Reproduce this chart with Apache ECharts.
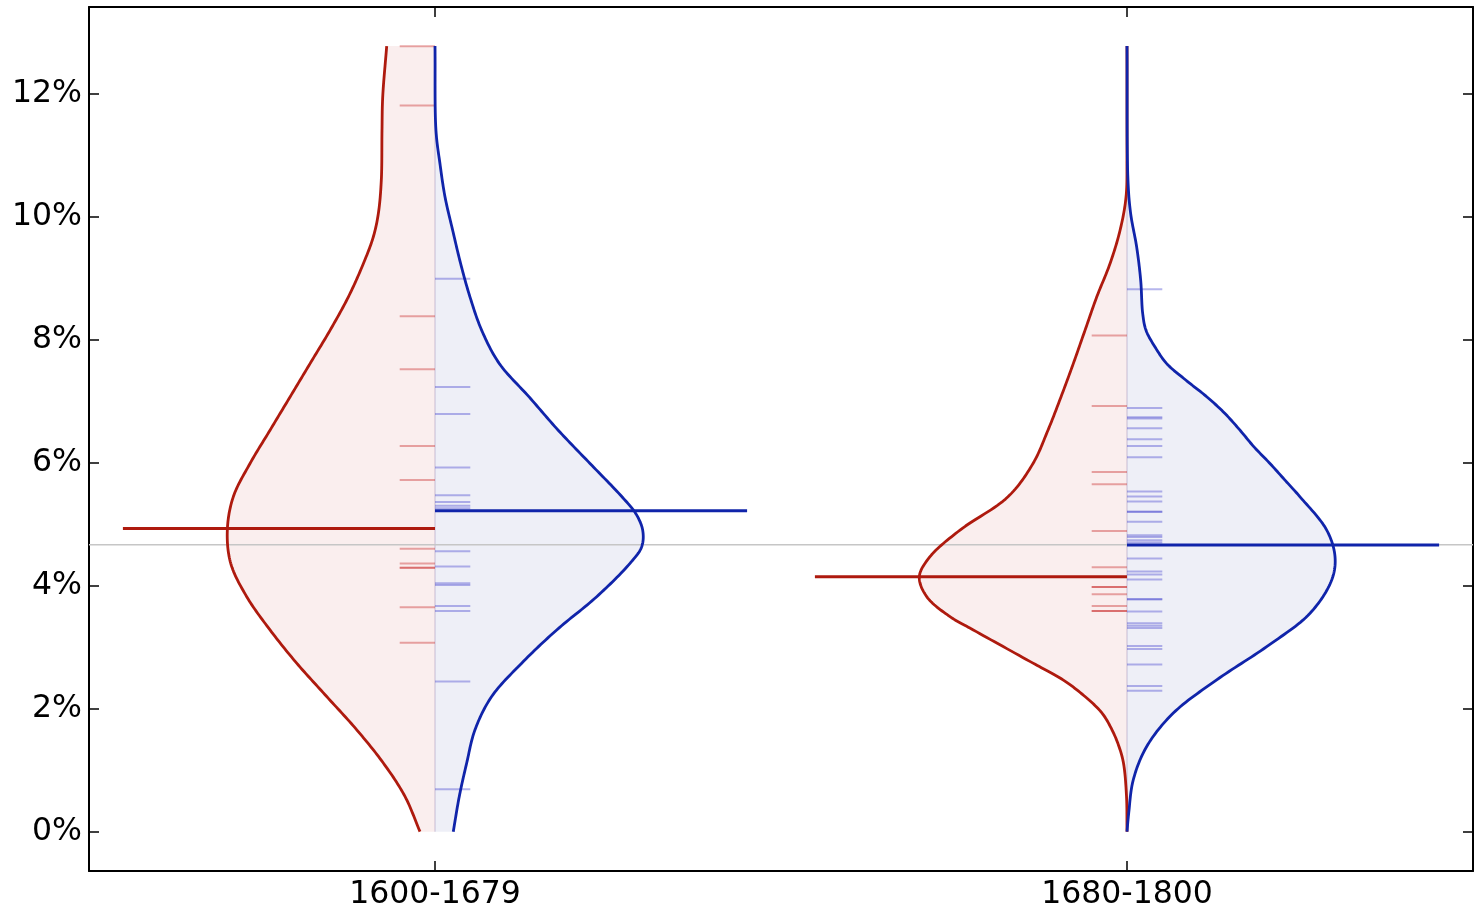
<!DOCTYPE html>
<html>
<head>
<meta charset="utf-8">
<script src="https://cdn.jsdelivr.net/npm/echarts@6/dist/echarts.min.js"></script>
<style>
  html, body { margin: 0; padding: 0; background: #ffffff; }
  #chart { width: 1483px; height: 912px; }
</style>
</head>
<body>
<div id="chart"></div>
<script>
// Period groups along the x axis and the y tick values (percent)
const groups = ['1600-1679', '1680-1800'];
const yTickValues = [0, 2, 4, 6, 8, 10, 12];

// Half-violin profiles, bottom to top: [value %, half width in x units]
const redProfile1600 = [
  [0, 0.0217], [0.573, 0.0434], [1.116, 0.0747], [1.656, 0.1131], [2.197, 0.1565],
  [2.740, 0.1999], [3.280, 0.2384], [3.821, 0.2721], [4.363, 0.2952], [4.904, 0.3001],
  [5.445, 0.2915], [5.987, 0.2673], [6.528, 0.2384], [7.069, 0.2095], [7.611, 0.1806],
  [8.152, 0.1517], [8.693, 0.1253], [9.235, 0.1036], [9.67, 0.0892], [10.05, 0.0819],
  [10.59, 0.0776], [11.40, 0.0766], [11.94, 0.0756], [12.775, 0.0698]
];
const blueProfile1600 = [
  [0, 0.0264], [0.573, 0.0351], [1.116, 0.0458], [1.656, 0.0578], [2.197, 0.0819],
  [2.740, 0.1253], [3.280, 0.1759], [3.821, 0.2337], [4.363, 0.2818], [4.633, 0.2987],
  [4.904, 0.3001], [5.175, 0.2900], [5.445, 0.2702], [5.987, 0.2240], [6.528, 0.1780],
  [7.069, 0.1360], [7.611, 0.0930], [8.152, 0.0675], [8.693, 0.0506], [9.235, 0.0371],
  [9.776, 0.0256], [10.32, 0.0145], [10.86, 0.0072], [11.40, 0.0014], [12.775, 0]
];
const redProfile1680 = [
  [0, 0], [0.573, 0.0007], [1.116, 0.0051], [1.385, 0.0116], [1.656, 0.0217],
  [1.928, 0.0361], [2.197, 0.0607], [2.468, 0.0925], [2.740, 0.1358], [3.280, 0.2221],
  [3.496, 0.2558], [3.821, 0.2894], [4.146, 0.3001], [4.471, 0.2847], [4.904, 0.2413],
  [5.445, 0.1720], [5.987, 0.1358], [6.528, 0.1142], [7.069, 0.0954], [7.611, 0.0776],
  [8.152, 0.0607], [8.693, 0.0438], [9.235, 0.0246], [9.776, 0.0101], [10.32, 0.0014],
  [11.02, 0], [12.775, 0]
];
const blueProfile1680 = [
  [0, 0], [0.304, 0.0025], [0.844, 0.0091], [1.385, 0.0285], [1.928, 0.0669],
  [2.468, 0.1296], [3.009, 0.2019], [3.551, 0.2645], [4.092, 0.2958], [4.471, 0.3006],
  [4.904, 0.2886], [5.445, 0.2500], [5.716, 0.2283], [5.987, 0.2066], [6.257, 0.1835],
  [6.528, 0.1633], [6.799, 0.1416], [7.069, 0.1156], [7.340, 0.0853], [7.611, 0.0574],
  [7.881, 0.0405], [8.152, 0.0275], [8.423, 0.0227], [8.964, 0.0198], [9.505, 0.0140],
  [10.05, 0.0053], [10.59, 0.0014], [12.775, 0]
];

// Individual observations (percent)
const redObs1600 = [12.77, 11.81, 8.38, 7.52, 6.27, 5.72, 4.60, 4.36, 4.29, 4.29, 3.65, 3.07];
const blueObs1600 = [8.99, 7.23, 6.79, 5.92, 5.47, 5.36, 5.30, 5.26, 4.56, 4.31, 4.04, 4.01,
  3.67, 3.59, 2.44, 0.69];
const redObs1680 = [8.07, 6.92, 5.85, 5.65, 4.89, 4.30, 3.98, 3.98, 3.86, 3.67, 3.59, 3.59];
const blueObs1680 = [8.82, 6.89, 6.74, 6.72, 6.56, 6.38, 6.27, 6.09, 5.53, 5.45, 5.37, 5.20,
  5.20, 5.04, 4.82, 4.79, 4.74, 4.70, 4.44, 4.23, 4.18, 4.10, 3.78, 3.78, 3.58, 3.39, 3.35,
  3.31, 3.02, 2.97, 2.72, 2.37, 2.29];

// Level lines per group (percent) and the overall level across both groups
const redLevels = [4.93, 4.145];
const blueLevels = [5.22, 4.66];
const overallLevel = 4.665;

const RED = '#AE1A0E';
const BLUE = '#1024AA';
const RED_FILL = '#FAEEEE';
const BLUE_FILL = '#EEEFF7';
const RED_TICK = 'rgba(200, 40, 40, 0.40)';
const BLUE_TICK = 'rgba(40, 40, 200, 0.34)';
const TICK_LEN = 0.051;
const LEVEL_LEN = 0.451;

// Centripetal Catmull-Rom smoothing in pixel space; the curve never crosses the centre line
function smoothCurve(pts, steps, cx, side) {
  const out = [];
  const n = pts.length;
  const dist = (a, b) => Math.pow(Math.hypot(b[0] - a[0], b[1] - a[1]), 0.5) + 1e-6;
  const lerp = (a, b, ta, tb, t) => {
    const u = (t - ta) / (tb - ta);
    return [a[0] + (b[0] - a[0]) * u, a[1] + (b[1] - a[1]) * u];
  };
  for (let i = 0; i < n - 1; i++) {
    const p1 = pts[i], p2 = pts[i + 1];
    const p0 = i > 0 ? pts[i - 1] : [2 * p1[0] - p2[0], 2 * p1[1] - p2[1]];
    const p3 = i < n - 2 ? pts[i + 2] : [2 * p2[0] - p1[0], 2 * p2[1] - p1[1]];
    const t0 = 0, t1 = t0 + dist(p0, p1), t2 = t1 + dist(p1, p2), t3 = t2 + dist(p2, p3);
    for (let s = 0; s < steps; s++) {
      const t = t1 + (t2 - t1) * s / steps;
      const a1 = lerp(p0, p1, t0, t1, t), a2 = lerp(p1, p2, t1, t2, t), a3 = lerp(p2, p3, t2, t3, t);
      const b1 = lerp(a1, a2, t0, t2, t), b2 = lerp(a2, a3, t1, t3, t);
      const c = lerp(b1, b2, t1, t2, t);
      if (side * (c[0] - cx) < 0) c[0] = cx;
      out.push(c);
    }
  }
  out.push(pts[n - 1]);
  return out;
}

// One half of a violin: 'fill' draws the shaded body, 'stroke' the outline
function halfViolin(kind, g, side, profile, color, z) {
  const data = profile.map(([v, w]) => [g + side * w, v]);
  return {
    type: 'custom',
    coordinateSystem: 'cartesian2d',
    xAxisIndex: 0,
    yAxisIndex: 0,
    z: z,
    silent: true,
    data: data,
    encode: { x: 0, y: 1 },
    renderItem(params, api) {
      if (params.dataIndexInside !== 0) return null;
      const n = params.dataInsideLength;
      const pts = [];
      for (let i = 0; i < n; i++) pts.push(api.coord([api.value(0, i), api.value(1, i)]));
      const cx = api.coord([g, 0])[0];
      const curve = smoothCurve(pts, 16, cx, side);
      if (kind === 'fill') {
        const b0 = api.coord([g, api.value(1, 0)]);
        const b1 = api.coord([g, api.value(1, n - 1)]);
        return { type: 'polygon', shape: { points: [b0].concat(curve, [b1]) }, style: { fill: color } };
      }
      return { type: 'polyline', shape: { points: curve }, style: { stroke: color, lineWidth: 2.8, fill: null, lineJoin: 'round' } };
    }
  };
}

// Straight segments [x0, y0, x1, y1] in data units
function segments(segs, color, width, z) {
  return {
    type: 'custom',
    coordinateSystem: 'cartesian2d',
    xAxisIndex: 0,
    yAxisIndex: 0,
    z: z,
    silent: true,
    data: segs,
    encode: { x: [0, 2], y: [1, 3] },
    renderItem(params, api) {
      const a = api.coord([api.value(0), api.value(1)]);
      const b = api.coord([api.value(2), api.value(3)]);
      return { type: 'line', shape: { x1: a[0], y1: a[1], x2: b[0], y2: b[1] }, style: { stroke: color, lineWidth: width, lineCap: 'butt' } };
    }
  };
}

const obsTicks = (values, g, side) => values.map(v => [g, v, g + side * TICK_LEN, v]);
const topOf = p => p[p.length - 1][0];

const series = [
  halfViolin('fill', 0, -1, redProfile1600, RED_FILL, 1),
  halfViolin('fill', 0, 1, blueProfile1600, BLUE_FILL, 1),
  halfViolin('fill', 1, -1, redProfile1680, RED_FILL, 1),
  halfViolin('fill', 1, 1, blueProfile1680, BLUE_FILL, 1),
  segments([[0, 0, 0, topOf(redProfile1600)], [1, 0, 1, topOf(redProfile1680)]], 'rgba(140, 125, 175, 0.22)', 2, 2),
  segments([[-0.5, overallLevel, 1.5, overallLevel]], '#C6C6C6', 1.6, 3),
  segments(obsTicks(redObs1600, 0, -1).concat(obsTicks(redObs1680, 1, -1)), RED_TICK, 2, 4),
  segments(obsTicks(blueObs1600, 0, 1).concat(obsTicks(blueObs1680, 1, 1)), BLUE_TICK, 2, 4),
  halfViolin('stroke', 0, -1, redProfile1600, RED, 5),
  halfViolin('stroke', 0, 1, blueProfile1600, BLUE, 5),
  halfViolin('stroke', 1, -1, redProfile1680, RED, 5),
  halfViolin('stroke', 1, 1, blueProfile1680, BLUE, 5),
  segments(redLevels.map((v, g) => [g - LEVEL_LEN, v, g, v]), RED, 3, 6),
  segments(blueLevels.map((v, g) => [g, v, g + LEVEL_LEN, v]), BLUE, 3, 6)
];

const axisLine = { show: true, onZero: false, lineStyle: { color: '#000000', width: 2 } };
const tickStyle = { color: '#000000', width: 1.5 };
const labelFont = { fontSize: 31.5, color: '#000000', fontFamily: 'DejaVu Sans' };

const option = {
  animation: false,
  backgroundColor: '#ffffff',
  grid: { left: 89, right: 10, top: 7, bottom: 41, containLabel: false },
  xAxis: [
    { type: 'value', min: -0.5, max: 1.5, show: false, position: 'bottom' },
    {
      type: 'category', data: groups, position: 'bottom', boundaryGap: true,
      axisLine: axisLine,
      axisTick: { show: true, inside: true, length: 10, alignWithLabel: true, interval: 0, lineStyle: tickStyle },
      axisLabel: Object.assign({ margin: 8, interval: 0 }, labelFont),
      splitLine: { show: false }
    },
    {
      type: 'category', data: groups, position: 'top', boundaryGap: true,
      axisLine: axisLine,
      axisTick: { show: true, inside: true, length: 10, alignWithLabel: true, interval: 0, lineStyle: tickStyle },
      axisLabel: { show: false },
      splitLine: { show: false }
    }
  ],
  yAxis: [
    {
      type: 'value', min: -0.64, max: 13.41, position: 'left',
      axisLine: axisLine,
      axisTick: { show: true, inside: true, length: 10, customValues: yTickValues, lineStyle: tickStyle },
      axisLabel: Object.assign({ customValues: yTickValues, formatter: '{value}%', margin: 7 }, labelFont),
      splitLine: { show: false }
    },
    {
      type: 'value', min: -0.64, max: 13.41, position: 'right',
      axisLine: axisLine,
      axisTick: { show: true, inside: true, length: 10, customValues: yTickValues, lineStyle: tickStyle },
      axisLabel: { show: false },
      splitLine: { show: false }
    }
  ],
  series: series
};

const chart = echarts.init(document.getElementById('chart'), null, { renderer: 'canvas' });
chart.setOption(option);
</script>
</body>
</html>
